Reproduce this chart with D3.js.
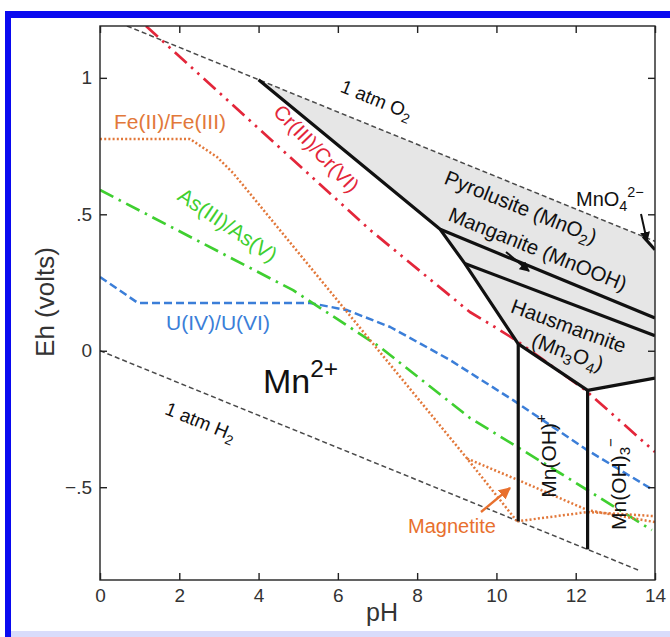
<!DOCTYPE html>
<html>
<head>
<meta charset="utf-8">
<script src="https://cdn.jsdelivr.net/npm/d3@7"></script>
<style>
  html, body { margin: 0; padding: 0; background: #fff; }
  svg { display: block; font-family: "Liberation Sans", Arial, sans-serif; }
</style>
</head>
<body>
<svg id="chart" width="670" height="637"></svg>
<script>
// Eh–pH stability diagram for manganese with redox couples of Fe, Cr, As and U

const phTicks = [0, 2, 4, 6, 8, 10, 12, 14];
const ehTicks = [1, 0.5, 0, -0.5];
const ehTickLabels = ["1", ".5", "0", "\u2212.5"];

// water stability limits [pH, Eh]
const o2Line = [[0.68, 1.19], [14, 0.401]];
const h2Line = [[0, 0], [13.6, -0.805]];

// redox couples [pH, Eh]
const crLine = [[1.16, 1.19], [6.81, 0.443], [8.65, 0.223], [9.33, 0.142], [9.96, 0.087],
                [10.52, 0.036], [12.24, -0.144], [14, -0.371]];
const feLine = [[0, 0.776], [2.27, 0.776], [2.95, 0.71], [3.36, 0.651], [9.26, -0.395], [10.52, -0.625]];
const magnetiteUpper = [[9.26, -0.395], [10.55, -0.474], [12.3, -0.584], [14, -0.628]];
const magnetiteLower = [[10.52, -0.625], [12.3, -0.591], [14, -0.606]];
const asLine = [[0, 0.589], [4.87, 0.222], [7.06, 0.014], [9.33, -0.246], [11.6, -0.448], [13.92, -0.657]];
const uLine = [[0, 0.27], [0.96, 0.175], [5.3, 0.175], [6.23, 0.149], [7.32, 0.087], [8.83, -0.034],
               [10.42, -0.181], [12.29, -0.364], [13.95, -0.51]];

// manganese field boundaries [pH, Eh]
const mnOuter = [[4.0, 0.993], [8.58, 0.445], [9.2, 0.32], [10.55, 0.025], [12.3, -0.145], [14, -0.10]];
const pyroManganite = [[8.58, 0.445], [14, 0.12]];
const manganiteHaus = [[9.2, 0.32], [14, 0.055]];
const mnOHBound = [[10.55, 0.025], [10.55, -0.625]];
const mnOH3Bound = [[12.3, -0.145], [12.3, -0.728]];
const mno4Bound = [[13.7, 0.419], [14, 0.37]];
// shaded solid-oxide field
const oxideField = [[4.0, 0.993], [13.7, 0.419], [14, 0.37], [14, -0.10], [12.3, -0.145],
                    [10.55, 0.025], [9.2, 0.32], [8.58, 0.445]];

const svg = d3.select("#chart");
const x = d3.scaleLinear().domain([0, 14]).range([100, 655]);
const y = d3.scaleLinear().domain([-0.84, 1.19]).range([580, 26]);
const line = d3.line().x(d => x(d[0])).y(d => y(d[1]));

// outer frame
svg.append("rect").attr("x", 0).attr("y", 0).attr("width", 670).attr("height", 637).attr("fill", "#fff");
svg.append("rect").attr("x", 5).attr("y", 11).attr("width", 665).attr("height", 7).attr("fill", "#0a0af0");
svg.append("rect").attr("x", 5).attr("y", 11).attr("width", 6).attr("height", 626).attr("fill", "#0a0af0");
svg.append("rect").attr("x", 11).attr("y", 631).attr("width", 659).attr("height", 6).attr("fill", "#d9dcfb");

const defs = svg.append("defs");
defs.append("clipPath").attr("id", "plotClip")
  .append("rect").attr("x", x(0)).attr("y", y(1.19)).attr("width", x(14) - x(0)).attr("height", y(-0.84) - y(1.19));
function marker(id, color) {
  defs.append("marker").attr("id", id).attr("viewBox", "0 0 10 10").attr("refX", 9).attr("refY", 5)
    .attr("markerWidth", 5).attr("markerHeight", 5).attr("orient", "auto-start-reverse")
    .append("path").attr("d", "M0,0 L10,5 L0,10 z").attr("fill", color);
}
marker("arrBlack", "#111");
marker("arrOrange", "#e8702e");

const plot = svg.append("g").attr("clip-path", "url(#plotClip)");

plot.append("path").datum(oxideField).attr("d", line).attr("fill", "#e6e6e6");

function drawLine(data, color, width, dash) {
  plot.append("path").datum(data).attr("d", line).attr("fill", "none")
    .attr("stroke", color).attr("stroke-width", width)
    .attr("stroke-dasharray", dash || null).attr("stroke-linejoin", "round");
}

drawLine(o2Line, "#4a4a4a", 1.5, "5,3");
drawLine(h2Line, "#4a4a4a", 1.5, "5,3");
drawLine(uLine, "#3b7ed8", 2.5, "8,4");
drawLine(asLine, "#3fcf30", 2.7, "15,6,2.5,6");
drawLine(feLine, "#e2783a", 2.5, "2,2.2");
drawLine(magnetiteUpper, "#e2783a", 2.5, "2,2.2");
drawLine(magnetiteLower, "#e2783a", 2.5, "2,2.2");
drawLine(crLine, "#e3263a", 2.7, "16,6,2.5,6,2.5,6");

[mnOuter, pyroManganite, manganiteHaus, mnOHBound, mnOH3Bound, mno4Bound].forEach(d =>
  drawLine(d, "#111", 3.2));

// axes
const frame = svg.append("g");
frame.append("rect").attr("x", x(0)).attr("y", y(1.19)).attr("width", x(14) - x(0))
  .attr("height", y(-0.84) - y(1.19)).attr("fill", "none").attr("stroke", "#222").attr("stroke-width", 1.4);

const tickLen = 7;
const axB = svg.append("g").attr("transform", `translate(0,${y(-0.84)})`)
  .call(d3.axisBottom(x).tickValues(phTicks).tickSizeInner(-tickLen).tickSizeOuter(0).tickPadding(9).tickFormat(d3.format("d")));
const axT = svg.append("g").attr("transform", `translate(0,${y(1.19)})`)
  .call(d3.axisTop(x).tickValues(phTicks).tickSizeInner(-tickLen).tickSizeOuter(0).tickFormat(""));
const axL = svg.append("g").attr("transform", `translate(${x(0)},0)`)
  .call(d3.axisLeft(y).tickValues(ehTicks).tickSizeInner(-tickLen).tickSizeOuter(0).tickPadding(8)
    .tickFormat((d, i) => ehTickLabels[i]));
const axR = svg.append("g").attr("transform", `translate(${x(14)},0)`)
  .call(d3.axisRight(y).tickValues(ehTicks).tickSizeInner(-tickLen).tickSizeOuter(0).tickFormat(""));
[axB, axT, axL, axR].forEach(a => {
  a.select(".domain").remove();
  a.selectAll(".tick line").attr("stroke", "#222").attr("stroke-width", 1.4);
  a.selectAll(".tick text").attr("fill", "#333").style("font-size", "19px")
    .style("font-family", "'Liberation Sans', Arial, sans-serif");
});

svg.append("text").attr("x", 382).attr("y", 621).attr("text-anchor", "middle")
  .attr("fill", "#333").style("font-size", "25px").text("pH");
svg.append("text").attr("transform", "translate(54,302) rotate(-90)").attr("text-anchor", "middle")
  .attr("fill", "#333").style("font-size", "26px").text("Eh (volts)");

// labels: parts are [text, kind] where kind is "", "sub" or "sup"
function label(cx, cy, angle, parts, color, size, anchor) {
  const t = svg.append("text").attr("transform", `translate(${cx},${cy}) rotate(${angle})`)
    .attr("text-anchor", anchor || "middle").attr("dominant-baseline", "middle")
    .attr("fill", color).style("font-size", size + "px");
  let shift = 0;
  parts.forEach(([s, k]) => {
    const ts = t.append("tspan").text(s);
    let target = 0;
    if (k === "sub") { target = size * 0.3; ts.style("font-size", (size * 0.72) + "px"); }
    if (k === "sup") { target = -size * 0.38; ts.style("font-size", (size * 0.72) + "px"); }
    ts.attr("dy", target - shift);
    shift = target;
  });
  return t;
}

label(376, 101, 22, [["1 atm O", ""], ["2", "sub"]], "#111", 19);
label(200, 423, 22, [["1 atm H", ""], ["2", "sub"]], "#111", 19);
label(170, 123, 0, [["Fe(II)/Fe(III)", ""]], "#e2783a", 21);
label(315, 150, 46, [["Cr(III)/Cr(VI)", ""]], "#e3263a", 20.5);
label(227, 226, 34, [["As(III)/As(V)", ""]], "#3fcf30", 21);
label(218, 324, 0, [["U(IV)/U(VI)", ""]], "#3b7ed8", 21);
label(263, 384, 0, [["Mn", ""], ["2+", "sup"]], "#111", 34, "start");
label(520, 209, 22, [["Pyrolusite (MnO", ""], ["2", "sub"], [")", ""]], "#111", 20.5);
label(537, 251, 22, [["Manganite (MnOOH)", ""]], "#111", 20.5);
label(568, 328, 20, [["Hausmannite", ""]], "#111", 20.5);
label(567, 354, 20, [["(Mn", ""], ["3", "sub"], ["O", ""], ["4", "sub"], [")", ""]], "#111", 20.5);
label(576, 201, 0, [["MnO", ""], ["4", "sub"], ["2\u2212", "sup"]], "#111", 20, "start");
label(550, 456, -90, [["Mn(OH)", ""], ["+", "sup"]], "#111", 21);
label(620, 484, -90, [["Mn(OH)", ""], ["3", "sub"], ["\u2212", "sup"]], "#111", 21);
label(452, 528, 0, [["Magnetite", ""]], "#e8702e", 20);

// pointer arrows
function arrow(x1, y1, x2, y2, color, id, w) {
  svg.append("line").attr("x1", x1).attr("y1", y1).attr("x2", x2).attr("y2", y2)
    .attr("stroke", color).attr("stroke-width", w).attr("marker-end", `url(#${id})`);
}
arrow(641, 214, 647, 241, "#111", "arrBlack", 2);
arrow(506, 252, 529, 271, "#111", "arrBlack", 2);
arrow(481, 512, 510, 488, "#e8702e", "arrOrange", 2.4);
</script>
</body>
</html>
